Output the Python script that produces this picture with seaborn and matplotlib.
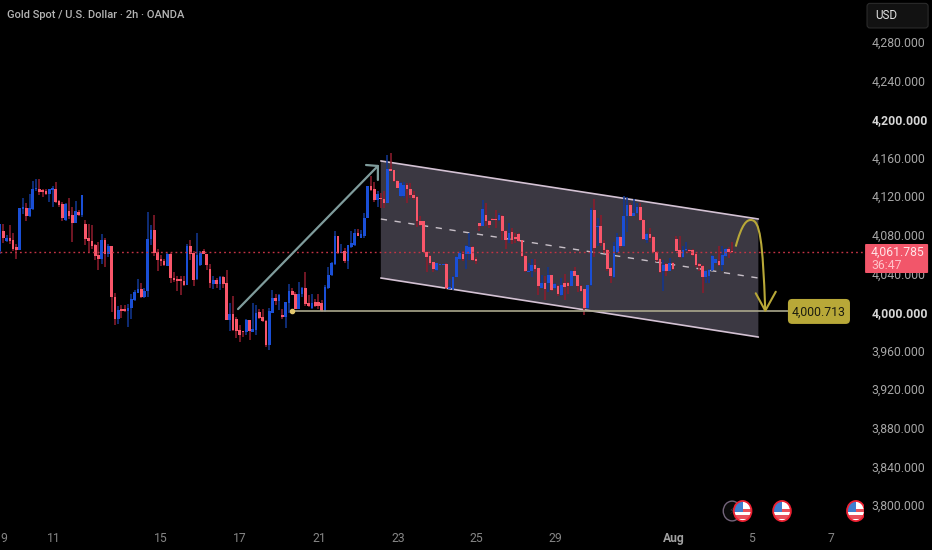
import numpy as np
import pandas as pd
import seaborn as sns
import matplotlib
matplotlib.use("Agg")
import matplotlib.pyplot as plt
from matplotlib.patches import Ellipse, FancyBboxPatch, PathPatch, Polygon, Rectangle
from matplotlib.path import Path

opens = [4063,4084,4074,4077,4075,4067,4064,4107,4108,4099,
 4107,4127,4128,4126,4125,4122,4126,4128,4115,4112,
 4095,4105,4101,4092,4104,4101,4091,4077,4074,4069,
 4059,4055,4075,4060,4068,4016,3993,4003,4003,4001,
 4004,4012,4020,4024,4016,4022,4076,4085,4062,4055,
 4053,4048,4060,4035,4034,4034,4032,4028,4068,4061,
 4034,4049,4063,4060,4045,4029,4033,4029,4036,4030,
 3992,3998,3993,3981,3980,3979,3992,3979,3981,4000,
 3995,3991,3966,3999,4015,4011,3997,3995,4009,4022,
 4019,4003,4019,4025,4009,4004,4010,4010,4009,4001,
 4025,4038,4050,4079,4061,4063,4053,4067,4069,4082,
 4077,4079,4097,4131,4127,4116,4118,4117,4113,4148,
 4147,4136,4120,4120,4132,4128,4121,4119,4094,4094,
 4062,4058,4052,4044,4049,4049,4050,4024,4024,4036,
 4055,4060,4060,4060,4067,4055,4092,4089,4101,4094,
 4096,4096,4095,4100,4084,4075,4083,4078,4081,4075,
 4058,4041,4042,4049,4046,4025,4030,4030,4038,4025,
 4027,4018,4030,4030,4027,4043,4038,4027,4024,4004,
 4028,4106,4088,4089,4072,4064,4046,4036,4062,4078,
 4068,4099,4111,4099,4103,4109,4095,4075,4081,4078,
 4062,4055,4043,4050,4043,4051,4076,4064,4057,4064,
 4064,4064,4060,4050,4048,4036,4037,4044,4051,4053,
 4049,4058,4065,4063]
closes = [4091,4077,4077,4074,4065,4064,4108,4109,4099,4108,
 4128,4129,4124,4124,4122,4127,4129,4114,4111,4097,
 4112,4100,4092,4105,4101,4121,4076,4074,4068,4058,
 4055,4075,4060,4068,4016,3993,4002,4001,4001,4004,
 4013,4021,4024,4016,4022,4076,4085,4061,4054,4053,
 4049,4060,4035,4033,4032,4032,4028,4068,4060,4033,
 4059,4061,4060,4049,4030,4033,4029,4036,4029,3992,
 3998,3981,3980,3976,3979,3992,3980,3982,3999,3994,
 3991,3966,4001,4015,4011,4018,3995,4010,4022,4018,
 4003,4019,4025,4008,4006,4009,4006,4006,4001,4026,
 4038,4051,4079,4061,4062,4053,4069,4072,4082,4079,
 4081,4097,4131,4126,4116,4122,4117,4113,4148,4146,
 4136,4129,4134,4132,4127,4121,4118,4094,4090,4062,
 4057,4051,4045,4051,4050,4050,4025,4026,4036,4057,
 4061,4055,4068,4067,4054,4053,4089,4107,4094,4090,
 4095,4095,4101,4084,4075,4082,4075,4076,4074,4058,
 4042,4043,4049,4045,4027,4030,4024,4038,4023,4029,
 4019,4028,4026,4027,4042,4037,4027,4022,4004,4028,
 4106,4066,4089,4072,4064,4045,4037,4068,4078,4068,
 4099,4111,4099,4103,4109,4095,4076,4081,4077,4062,
 4054,4041,4049,4043,4051,4045,4063,4057,4064,4065,
 4063,4059,4049,4048,4036,4043,4044,4058,4055,4049,
 4059,4065,4062,4062]
highs = [4091,4091,4080,4090,4082,4071,4108,4118,4113,4122,
 4136,4138,4138,4127,4128,4127,4131,4135,4116,4114,
 4113,4118,4109,4115,4106,4121,4095,4091,4090,4071,
 4073,4081,4077,4070,4068,4020,4006,4007,4007,4008,
 4019,4023,4034,4030,4025,4104,4090,4101,4065,4059,
 4055,4061,4061,4041,4037,4037,4037,4071,4075,4063,
 4082,4063,4065,4060,4050,4037,4035,4037,4037,4044,
 4009,4017,3995,3986,3980,3993,3992,4009,4007,4003,
 4003,3992,4004,4023,4019,4019,4003,4010,4029,4025,
 4021,4031,4026,4041,4018,4019,4013,4019,4012,4028,
 4047,4052,4084,4079,4071,4066,4069,4084,4086,4086,
 4085,4103,4131,4141,4135,4125,4123,4125,4163,4165,
 4147,4137,4135,4135,4134,4134,4125,4120,4099,4094,
 4063,4059,4052,4051,4050,4050,4051,4034,4037,4058,
 4063,4063,4069,4082,4068,4057,4092,4116,4113,4095,
 4097,4106,4103,4101,4085,4092,4087,4082,4082,4075,
 4059,4051,4055,4055,4046,4038,4037,4047,4038,4030,
 4028,4035,4039,4031,4044,4047,4038,4028,4024,4028,
 4108,4117,4097,4101,4075,4065,4047,4073,4082,4079,
 4120,4119,4113,4117,4113,4113,4096,4082,4087,4079,
 4063,4056,4054,4051,4056,4052,4079,4079,4068,4073,
 4065,4065,4061,4051,4049,4044,4045,4059,4055,4068,
 4068,4066,4067,4073]
lows = [4060,4072,4073,4071,4063,4055,4064,4102,4094,4098,
 4106,4125,4121,4119,4121,4114,4109,4113,4109,4094,
 4094,4096,4073,4092,4099,4098,4069,4062,4065,4054,
 4044,4050,4047,4057,4000,3987,3988,3994,4000,3984,
 3993,4011,4020,4015,4015,4016,4069,4058,4043,4048,
 4048,4048,4030,4031,4022,4018,4027,4028,4054,4027,
 4033,4048,4060,4044,4025,4024,4025,4023,4025,3992,
 3980,3980,3973,3969,3974,3976,3971,3979,3976,3993,
 3990,3964,3961,3999,4007,4002,3993,3983,3999,4018,
 4003,4003,4016,4006,4005,4003,4005,4003,4000,4000,
 4024,4037,4049,4060,4061,4051,4045,4066,4068,4079,
 4077,4077,4097,4125,4114,4109,4108,4108,4113,4146,
 4135,4129,4119,4118,4113,4118,4116,4088,4089,4062,
 4041,4049,4041,4043,4049,4049,4024,4024,4023,4036,
 4054,4053,4045,4054,4053,4050,4084,4089,4089,4087,
 4095,4087,4094,4075,4065,4072,4071,4072,4073,4057,
 4041,4041,4036,4041,4018,4025,4012,4021,4022,4024,
 4017,4017,4012,4019,4027,4037,4021,4021,3997,4003,
 4027,4057,4068,4068,4061,4042,4030,4035,4061,4066,
 4067,4083,4099,4099,4102,4094,4075,4072,4073,4061,
 4052,4040,4022,4037,4043,4044,4063,4056,4056,4063,
 4061,4058,4047,4042,4020,4030,4030,4043,4051,4048,
 4043,4057,4056,4061]

price_ticks = [4280,4240,4200,4160,4120,4080,4040,4000,3960,3920,3880,3840,3800]
bold_ticks = [4200,4000]
date_labels = ["9","11","15","17","21","23","25","29","Aug","5","7"]
date_positions = [1.2,16.4,49,73,97.2,121.2,145,169,205.3,229,253]
last_price = 4061.785
last_price_label = "4,061.785"
countdown = "36:47"
target_price = 4000.713
target_label = "4,000.713"
title = "Gold Spot / U.S. Dollar · 2h · OANDA"
currency = "USD"
channel_x = [116, 231]
channel_top = [4156.6, 4096.4]
channel_mid = [4096.4, 4035.2]
channel_bottom = [4035.2, 3974]
flag_events = [226.2, 238.2, 260.7]
other_events = [223]
event_price = 3793.6

FONT = "Roboto"
BLUE, RED = "#1a4fd6", "#f9566a"
BLUE_W, RED_W = "#12368f", "#8c1c2c"
sns.set_theme(style="dark", rc={"axes.facecolor": "black", "figure.facecolor": "black",
                                "axes.grid": False, "font.family": FONT})

W, H = 932, 550
fig = plt.figure(figsize=(W/100, H/100), dpi=100)
ax = fig.add_axes([0, 25/H, 864/W, 525/H])
PXX = 3.283
ax.set_xlim(0, 864/PXX)
ax.set_ylim(3779.1, 4323.5)
sns.despine(ax=ax, left=True, bottom=True, right=True, top=True)

df = pd.DataFrame({"open": opens, "high": highs, "low": lows, "close": closes})
df["i"] = np.arange(len(df))
df["up"] = df["close"] >= df["open"]

# channel
ax.add_patch(Polygon([(channel_x[0], channel_top[0]), (channel_x[1], channel_top[1]),
                      (channel_x[1], channel_bottom[1]), (channel_x[0], channel_bottom[0])],
                     fc="#3b3842", ec="none", zorder=1))
channel = pd.DataFrame({"x": channel_x * 3,
                        "y": channel_top + channel_mid + channel_bottom,
                        "s": ["t", "t", "m", "m", "b", "b"]})
for key, ls in (("t", "-"), ("b", "-")):
    sub = channel[channel.s == key]
    sns.lineplot(data=sub, x="x", y="y", ax=ax, color="#d4c2d4", lw=1.2, ls=ls, zorder=2,
                 estimator=None, sort=False)
sub = channel[channel.s == "m"]
ax.plot(sub.x, sub.y, color="#c8c0c8", lw=1.0, ls=(0, (4.5, 5.5)), zorder=2)

# candles
for up, wick, body in ((True, BLUE_W, BLUE), (False, RED_W, RED)):
    d = df[df.up == up]
    ax.vlines(d.i, d.low, d.high, color=wick, lw=1.15, zorder=3)
    ax.bar(d.i, (d.close - d.open).abs(), bottom=d[["open", "close"]].min(axis=1),
           width=0.82, color=body, lw=0, zorder=4)

# last price line
ax.axhline(last_price, color="#c23344", lw=1.0, ls=(0, (1.3, 2.2)), zorder=5)

# target line
ax.plot([88.9, 240], [target_price, target_price], color="#aaa78c", lw=1.2, zorder=5, clip_on=False)
ax.plot([88.9], [target_price], "o", ms=3.0, color="#e3c76d", zorder=6)

# rise arrow
ARROW = "#7f9c9c"
ax.plot([72.5, 115.1], [4003, 4151.4], color=ARROW, lw=1.6, zorder=6, solid_capstyle="round")
ax.plot([111.5, 115.1, 115.1], [4152.4, 4151.4, 4136.9], color=ARROW, lw=1.6, zorder=6)

# forecast curve
GOLD = "#b8a838"
verts = [(224.1, 4067.8), (226, 4092), (227.5, 4095.4), (228.7, 4095.4),
         (231.5, 4095.4), (232.3, 4075), (233.1, 4001.3)]
codes = [Path.MOVETO] + [Path.CURVE4] * 6
ax.add_patch(PathPatch(Path(verts, codes), fc="none", ec=GOLD, lw=1.5, zorder=7))
ax.plot([230.2, 233.1, 236.3], [4019.4, 4001.3, 4021], color=GOLD, lw=1.5, zorder=7)

# target label
ax.add_patch(FancyBboxPatch((240, 3987.6), 18.9, 25.9, boxstyle="round,pad=0,rounding_size=1.3",
                            mutation_aspect=3.4, fc=GOLD, ec="none", zorder=8))
ax.text(249.4, target_price - 0.5, target_label, color="#1c1c10", fontsize=8.8, ha="center",
        va="center", zorder=9)

# event icons
for x in other_events:
    ax.add_patch(Ellipse((x, event_price), 5.4, 20.5, fc="#0a0a0a", ec="#73647a", lw=1.0, zorder=6))
    ax.text(x, event_price, "⚡", color="#3c3640", fontsize=7, ha="center", va="center",
            zorder=6, family="DejaVu Sans")
for x in flag_events:
    e = Ellipse((x, event_price), 5.2, 20.5, fc="white", ec="none", zorder=7)
    ax.add_patch(e)
    for dy in (-6.5, 0.5):
        r = Rectangle((x - 3, event_price + dy - 1.5), 6, 3.4, fc="#e8505b", ec="none", zorder=7.2)
        ax.add_patch(r)
        r.set_clip_path(e)
    r = Rectangle((x - 3, event_price - 1), 3, 14, fc="#3f7fd0", ec="none", zorder=7.4)
    ax.add_patch(r)
    r.set_clip_path(e)
    ax.add_patch(Ellipse((x, event_price), 5.4, 20.8, fc="none", ec="#ee2233", lw=1.3, zorder=7.6))

# axes ticks
ax.yaxis.tick_right()
ax.set_yticks(price_ticks)
ax.set_yticklabels([f"{p:,.3f}" for p in price_ticks])
ax.tick_params(axis="y", length=0, pad=5.3, labelsize=8.8, labelcolor="#a6a6a6")
for lab, p in zip(ax.get_yticklabels(), price_ticks):
    if p in bold_ticks:
        lab.set_color("#d6d6d6")
        lab.set_fontweight("bold")
ax.set_xticks(date_positions)
ax.set_xticklabels(date_labels)
ax.tick_params(axis="x", length=0, pad=4.8, labelsize=8.7, labelcolor="#868686")
for lab, t in zip(ax.get_xticklabels(), date_labels):
    if t == "Aug":
        lab.set_fontweight("bold")
        lab.set_color("#a0a0a0")
ax.set_xlabel("")
ax.set_ylabel("")

# last price tag
ax.add_patch(FancyBboxPatch((263.5, 4040.4), 19.2, 30.1, boxstyle="round,pad=0,rounding_size=0.3",
                            mutation_aspect=3.4, fc="#f2566a", ec="none", zorder=10, clip_on=False))
ax.text(265.3, 4062.0, last_price_label, color="#ffe4e6", fontsize=8.8, va="center", ha="left",
        zorder=11, clip_on=False)
ax.text(265.3, 4048.6, countdown, color="#ffc2c8", fontsize=8.8, va="center", ha="left",
        zorder=11, clip_on=False)

# currency box
ax.add_patch(FancyBboxPatch((264.1, 4294.5), 18.6, 25.5, boxstyle="round,pad=0,rounding_size=0.9",
                            mutation_aspect=3.4, fc="#121212", ec="#2b2b2b", lw=0.8, zorder=10,
                            clip_on=False))
ax.text(266.5, 4307, currency, color="#e4e4e4", fontsize=8.4, va="center", ha="left", zorder=11,
        clip_on=False)

# title
fig.text(7/W, 1 - 15.5/H, title, color="#b4b4b4", fontsize=8.0, fontweight="medium",
         family=FONT, va="center", ha="left")

fig.savefig("out.png", dpi=100, facecolor="black")
